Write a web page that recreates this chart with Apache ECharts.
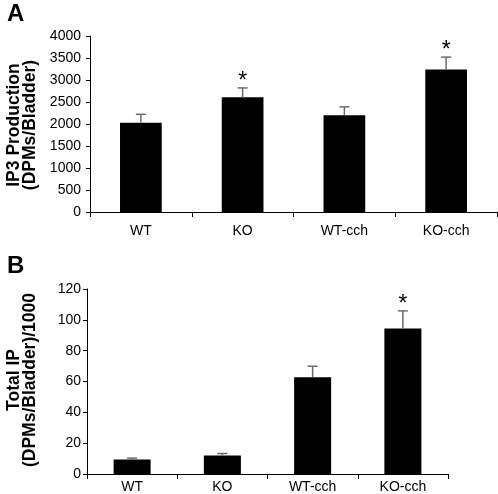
<!DOCTYPE html>
<html><head><meta charset="utf-8">
<script src="https://cdn.jsdelivr.net/npm/echarts@6/dist/echarts.min.js"></script>
<style>html,body{margin:0;padding:0;background:#fff}#c{width:498px;height:494px}</style>
</head><body><div id="c"></div>
<script>
var categories = ['WT', 'KO', 'WT-cch', 'KO-cch'];
var ip3Values = [2030, 2610, 2200, 3240];
var ip3Errors = [190, 210, 190, 280];
var ip3Sig = [0, 1, 0, 1];
var totalValues = [9.4, 12.0, 62.8, 94.4];
var totalErrors = [0.9, 1.3, 7.1, 11.4];
var totalSig = [0, 0, 0, 1];
var ip3Ticks = [0, 4000, 500];
var totalTicks = [0, 120, 20];

var FONT = '"Liberation Sans", Arial, sans-serif';
function errRender(params, api) {
  var x = api.value(0), v = api.value(1), e = api.value(2), s = api.value(3);
  var base = api.coord([x, v]);
  var top = api.coord([x, v + e]);
  var hw = 5;
  var st = { stroke: '#6b6b6b', lineWidth: 1.5 };
  var ch = [
    { type: 'line', shape: { x1: base[0], y1: base[1], x2: top[0], y2: top[1] }, style: st },
    { type: 'line', shape: { x1: top[0] - hw, y1: top[1], x2: top[0] + hw, y2: top[1] }, style: st }
  ];
  if (s) ch.push({ type: 'text', x: top[0], y: top[1] + 5, style: { text: '*', font: '23px ' + FONT, textAlign: 'center', textVerticalAlign: 'bottom', fill: '#000' } });
  return { type: 'group', children: ch };
}
function errData(vals, errs, sig) {
  return vals.map(function (v, i) { return [i, v, errs[i], sig[i]]; });
}
function xAx(g, margin) {
  return {
    type: 'category', gridIndex: g, data: categories,
    axisLine: { lineStyle: { color: '#000', width: 1 } },
    axisTick: { show: true, length: 5, lineStyle: { color: '#000' } },
    axisLabel: { fontSize: 14, color: '#000', margin: margin, fontFamily: FONT }
  };
}
function yAx(g, t, margin) {
  return {
    type: 'value', gridIndex: g, min: t[0], max: t[1], interval: t[2],
    splitLine: { show: false },
    axisLine: { show: true, lineStyle: { color: '#000', width: 1 } },
    axisTick: { show: true, length: 4, lineStyle: { color: '#000' } },
    axisLabel: { fontSize: 14, color: '#000', margin: margin, fontFamily: FONT, formatter: function (v) { return String(v); } }
  };
}
var chart = echarts.init(document.getElementById('c'));
chart.setOption({
  animation: false,
  backgroundColor: '#fff',
  grid: [
    { left: 90, top: 36, width: 407, height: 176 },
    { left: 87, top: 289, width: 361, height: 186 }
  ],
  xAxis: [xAx(0, 12), xAx(1, 6)],
  yAxis: [yAx(0, ip3Ticks, 9), yAx(1, totalTicks, 6)],
  series: [
    { type: 'bar', xAxisIndex: 0, yAxisIndex: 0, data: ip3Values, barWidth: '41%', itemStyle: { color: '#000' } },
    { type: 'custom', xAxisIndex: 0, yAxisIndex: 0, data: errData(ip3Values, ip3Errors, ip3Sig), renderItem: errRender, encode: { x: 0, y: 1 }, z: 5 },
    { type: 'bar', xAxisIndex: 1, yAxisIndex: 1, data: totalValues, barWidth: '41%', itemStyle: { color: '#000' } },
    { type: 'custom', xAxisIndex: 1, yAxisIndex: 1, data: errData(totalValues, totalErrors, totalSig), renderItem: errRender, encode: { x: 0, y: 1 }, z: 5 }
  ],
  graphic: [
    { type: 'text', left: 7, top: 2, style: { text: 'A', font: 'bold 24px ' + FONT, fill: '#000' } },
    { type: 'text', left: 7, top: 254, style: { text: 'B', font: 'bold 24px ' + FONT, fill: '#000' } },
    { type: 'text', x: 22, y: 125, rotation: Math.PI / 2, style: { text: 'IP3 Production\n(DPMs/Bladder)', font: 'bold 17.5px ' + FONT, lineHeight: 16.5, textAlign: 'center', textVerticalAlign: 'middle', fill: '#000' } },
    { type: 'text', x: 22, y: 380, rotation: Math.PI / 2, style: { text: 'Total IP\n(DPMs/Bladder)/1000', font: 'bold 17.5px ' + FONT, lineHeight: 16.5, textAlign: 'center', textVerticalAlign: 'middle', fill: '#000' } }
  ]
});
</script></body></html>
